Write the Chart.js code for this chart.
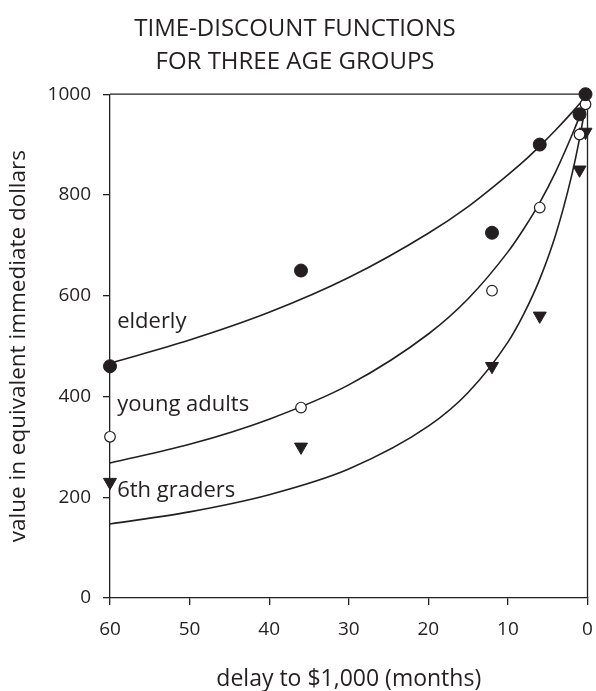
<!DOCTYPE html>
<html>
<head>
<meta charset="utf-8">
<title>Time-discount functions for three age groups</title>
<script src="https://cdn.jsdelivr.net/npm/chart.js@4.4.1/dist/chart.umd.min.js"></script>
<style>
  html, body { margin: 0; padding: 0; background: #fff; }
  #wrap { width: 596px; height: 691px; position: relative; }
</style>
</head>
<body>
<div id="wrap"><canvas id="chart"></canvas></div>
<script>
'use strict';

// ===== DATA =====
// observed points, delay in months
const delayMonths   = [60, 36, 12, 6, 1, 0.25];
const elderlyValues = [460, 650, 725, 900, 960, 1000];
const youngValues   = [320, 378, 610, 775, 920, 980];
const sixthValues   = [230, 300, 460, 560, 850, 925];

// fitted curves
const curveMonths  = [60, 50, 40, 30, 20, 15, 10, 8, 6, 4, 2, 1, 0];
const elderlyCurve = [466, 512, 567, 636, 724, 777, 840, 867, 897, 929, 963, 981, 1000];
const youngCurve   = [268, 305, 355, 423, 524, 594, 687, 733, 785, 846, 917, 956, 1000];
const sixthCurve   = [147, 171, 205, 256, 341, 408, 508, 564, 633, 721, 838, 912, 1000];

// curve names and where they sit
const groupNames       = ['elderly', 'young adults', '6th graders'];
const nameAnchorMonths = [59.1, 59.1, 59.1];
const nameAnchorValues = [549, 384, 212];

const INK = '#231f20';
const FONT = '"Open Sans", "Noto Sans", sans-serif';

const pairs = (xs, ys) => xs.map((x, i) => ({ x, y: ys[i] }));

// ===== PLUGINS =====
// top and right edges of the box
const frame = {
  id: 'frame',
  beforeDatasetsDraw(chart) {
    const { ctx, chartArea: a } = chart;
    ctx.save();
    ctx.strokeStyle = INK;
    ctx.lineWidth = 1.3;
    ctx.beginPath();
    ctx.moveTo(a.left, a.top);
    ctx.lineTo(a.right, a.top);
    ctx.lineTo(a.right, a.bottom);
    ctx.stroke();
    ctx.restore();
  }
};

// names written next to each curve
const groupLabels = {
  id: 'groupLabels',
  afterDatasetsDraw(chart) {
    const { ctx, scales: { x, y } } = chart;
    ctx.save();
    ctx.font = '22px ' + FONT;
    ctx.fillStyle = INK;
    ctx.textAlign = 'left';
    ctx.textBaseline = 'middle';
    groupNames.forEach((name, i) => {
      ctx.fillText(name, x.getPixelForValue(nameAnchorMonths[i]), y.getPixelForValue(nameAnchorValues[i]));
    });
    ctx.restore();
  }
};

// ===== CHART =====
const curve = (data) => ({
  type: 'line',
  data,
  borderColor: INK,
  borderWidth: 1.6,
  pointRadius: 0,
  cubicInterpolationMode: 'monotone',
  fill: false,
  clip: false
});

const markers = (data, style) => Object.assign({
  type: 'scatter',
  data,
  showLine: false,
  clip: false,
  borderColor: INK,
  backgroundColor: INK,
  pointHoverRadius: 0
}, style);

new Chart(document.getElementById('chart'), {
  data: {
    datasets: [
      markers(pairs(delayMonths, elderlyValues), { label: 'elderly', pointStyle: 'circle', pointRadius: 6.5, borderWidth: 1 }),
      markers(pairs(delayMonths, youngValues), { label: 'young adults', pointStyle: 'circle', pointRadius: 5.3, borderWidth: 1.2, backgroundColor: '#fff' }),
      markers(pairs(delayMonths, sixthValues), { label: '6th graders', pointStyle: 'triangle', pointRotation: 180, pointRadius: 7.5, borderWidth: 1 }),
      curve(pairs(curveMonths, elderlyCurve)),
      curve(pairs(curveMonths, youngCurve)),
      curve(pairs(curveMonths, sixthCurve))
    ]
  },
  options: {
    responsive: true,
    maintainAspectRatio: false,
    animation: false,
    events: [],
    layout: { padding: { left: 0, right: 6, top: 0, bottom: 0 } },
    plugins: {
      legend: { display: false },
      tooltip: { enabled: false },
      title: {
        display: true,
        text: ['TIME-DISCOUNT FUNCTIONS', 'FOR THREE AGE GROUPS'],
        color: INK,
        font: { family: FONT, size: 24, weight: 'normal', lineHeight: 1.4 },
        padding: { top: 12, bottom: 15 }
      }
    },
    scales: {
      x: {
        type: 'linear',
        reverse: true,
        min: 0,
        max: 60,
        border: { color: INK, width: 1.3 },
        grid: { drawOnChartArea: false, drawTicks: true, tickLength: 7, color: INK, lineWidth: 1.3 },
        ticks: { stepSize: 10, color: INK, padding: 13, font: { family: FONT, size: 19 } },
        title: {
          display: true,
          text: 'delay to $1,000 (months)',
          color: INK,
          font: { family: FONT, size: 23, lineHeight: 1.0 },
          padding: { top: 0, bottom: 0 }
        },
        afterFit(scale) {
          scale.height = 93;
          // keep the tick padding from eating into the plot width
          scale.paddingLeft = 0;
          scale.paddingRight = 6;
        }
      },
      y: {
        min: 0,
        max: 1000,
        border: { color: INK, width: 1.3 },
        grid: { drawOnChartArea: false, drawTicks: true, tickLength: 7, color: INK, lineWidth: 1.3 },
        ticks: {
          stepSize: 200,
          color: INK,
          padding: 12,
          font: { family: FONT, size: 19 },
          callback: (v) => String(v)
        },
        title: {
          display: true,
          text: 'value in equivalent immediate dollars',
          color: INK,
          font: { family: FONT, size: 22.5 },
          padding: { top: 5, bottom: 0 }
        },
        afterFit(scale) { scale.width = 110; }
      }
    }
  },
  plugins: [frame, groupLabels]
});
</script>
</body>
</html>
